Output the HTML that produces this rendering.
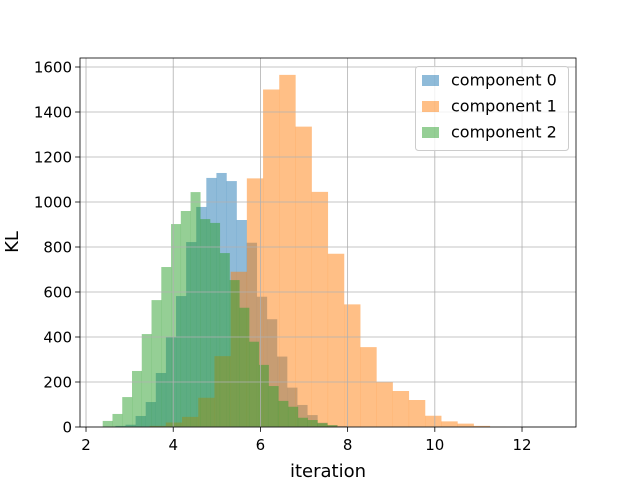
<!DOCTYPE html>
<html><head><meta charset="utf-8"><style>
html,body{margin:0;padding:0;background:#fff;}
svg{display:block;font-family:"DejaVu Sans","Liberation Sans",sans-serif;}
</style></head><body>
<svg id="chart" width="640" height="480" viewBox="0 0 640 480" xmlns="http://www.w3.org/2000/svg">
<rect x="0" y="0" width="640" height="480" fill="#fff"/>
<g id="bars"></g>
<g id="grid"></g>
<rect x="80" y="58" width="496" height="369" fill="none" stroke="#000" stroke-width="0.8"/>
<g id="ticks"></g>
<text x="328" y="477" font-size="18" text-anchor="middle">iteration</text>
<text transform="translate(18,242) rotate(-90)" font-size="18" text-anchor="middle">KL</text>
<g id="legend"></g>
</svg>
<script>
const seriesNames = ["component 0", "component 1", "component 2"];
const seriesColors = ["#1f77b4", "#ff7f0e", "#2ca02c"];
const binStarts = [2.674, 3.459, 2.383];
const binWidths = [0.2317, 0.3716, 0.2239];
const counts0 = [5,10,49,111,240,400,582,822,978,1107,1129,1093,920,819,579,479,313,175,98,53,19,8,4];
const counts1 = [5,20,45,130,315,690,1105,1500,1565,1335,1045,770,545,355,200,160,120,50,25,15,5,2];
const counts2 = [27,58,133,249,413,564,711,902,960,1044,924,907,773,653,530,379,276,182,116,90,41,31,17,8];
const xTicks = [2,4,6,8,10,12];
const yTicks = [0,200,400,600,800,1000,1200,1400,1600];

const X0=80, X1=576, Y0=427, Y1=58;
const xMin=1.862, xMax=13.238, yMin=0, yMax=1640;
function sx(v){return X0+(v-xMin)/(xMax-xMin)*(X1-X0);}
function sy(v){return Y0-(v-yMin)/(yMax-yMin)*(Y0-Y1);}
const NS="http://www.w3.org/2000/svg";
function mk(tag, attrs, parent){const e=document.createElementNS(NS,tag);for(const k in attrs)e.setAttribute(k,attrs[k]);parent.appendChild(e);return e;}

const allCounts=[counts0,counts1,counts2];
const bars=document.getElementById('bars');
allCounts.forEach((cs,s)=>{
  cs.forEach((c,i)=>{
    const a=binStarts[s]+i*binWidths[s], b=a+binWidths[s];
    const r=mk('rect',{x:sx(a),y:sy(c),width:sx(b)-sx(a)+0.2,height:sy(0)-sy(c),fill:seriesColors[s],'fill-opacity':0.5},bars);
    
    
  });
});

const grid=document.getElementById('grid'), ticks=document.getElementById('ticks');
xTicks.forEach(t=>{
  const x=sx(t);
  const g=mk('line',{x1:x,x2:x,y1:Y1,y2:Y0,stroke:'#b0b0b0','stroke-width':0.8},grid);
  
  
  mk('line',{x1:x,x2:x,y1:Y0,y2:Y0+4.9,stroke:'#000','stroke-width':0.8},ticks);
  const tx=mk('text',{x:x,y:Y0+23,'font-size':15,'text-anchor':'middle'},ticks);
  tx.textContent=t;
  
  
});
yTicks.forEach(t=>{
  const y=sy(t);
  const g=mk('line',{x1:X0,x2:X1,y1:y,y2:y,stroke:'#b0b0b0','stroke-width':0.8},grid);
  
  
  mk('line',{x1:X0-4.9,x2:X0,y1:y,y2:y,stroke:'#000','stroke-width':0.8},ticks);
  const tx=mk('text',{x:X0-8,y:y+5.5,'font-size':15,'text-anchor':'end'},ticks);
  tx.textContent=t;
  
  
});

const leg=document.getElementById('legend');
mk('rect',{x:415.5,y:66.5,width:153,height:84,rx:3,fill:'#fff','fill-opacity':0.8,stroke:'#ccc','stroke-width':1},leg);
seriesNames.forEach((n,i)=>{
  const y=80+i*26;
  const sw=mk('rect',{x:422,y:y-5,width:17,height:11,fill:seriesColors[i],'fill-opacity':0.5},leg);
  
  
  const tx=mk('text',{x:451,y:y+5.5,'font-size':16},leg);
  tx.textContent=n;
  
  
});
</script>
</body></html>
